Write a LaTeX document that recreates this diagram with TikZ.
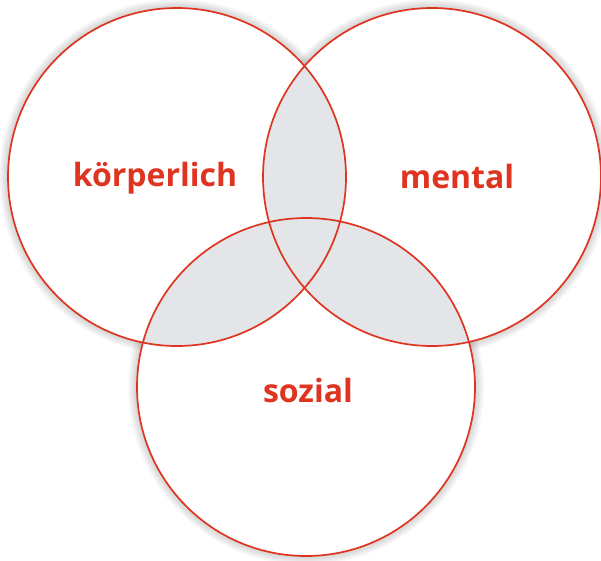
\documentclass[tikz,border=0pt]{standalone}
\usepackage{fontspec}
\setmainfont{Open Sans}
\usetikzlibrary{positioning}
\definecolor{vennred}{RGB}{222, 52, 32}
\definecolor{lensgray}{RGB}{228, 229, 233}

\begin{document}
\begin{tikzpicture}[x=1pt, y=-1pt,
        ring/.style={draw=vennred, line width=1.7pt},
        glow/.style={black, opacity=0.018},
        lbl/.style={font=\fontsize{32}{38}\selectfont\bfseries,
                    text=vennred, anchor=base, inner sep=0pt}
    ]
    \useasboundingbox (0,0) rectangle (601,560);

    \coordinate (kc) at (177, 177);
    \coordinate (mc) at (432, 177);
    \coordinate (sc) at (306, 387);

    % soft shadow round the rings
    \foreach \c in {kc, mc, sc}
        \foreach \w in {2, 4, ..., 18}
            \draw[glow, line width=\w pt] (\c) circle (169pt);

    \foreach \c in {kc, mc, sc}
        \fill[white] (\c) circle (169pt);

    % overlaps
    \begin{scope}
        \clip (kc) circle (169pt);
        \fill[lensgray] (mc) circle (169pt);
        \fill[lensgray] (sc) circle (169pt);
    \end{scope}
    \begin{scope}
        \clip (mc) circle (169pt);
        \fill[lensgray] (sc) circle (169pt);
    \end{scope}

    \foreach \c in {kc, mc, sc}
        \draw[ring] (\c) circle (169pt);

    \node[lbl] (koerper) at (155, 186) {körperlich};
    \node[lbl] (mental)  at (457, 188) {mental};
    \node[lbl] (sozial)  at (308, 402) {sozial};

    \end{tikzpicture}
\end{document}
